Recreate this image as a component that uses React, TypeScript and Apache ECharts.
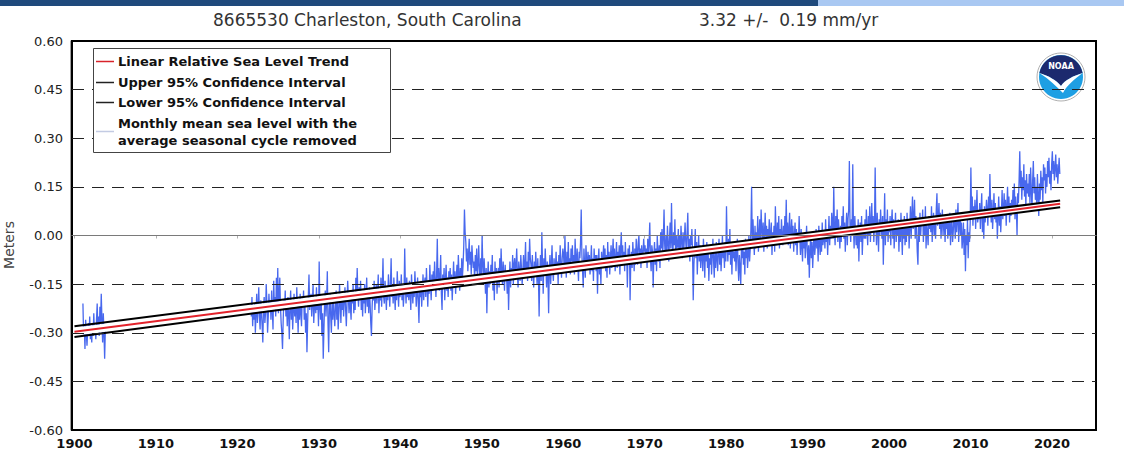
import React, { useEffect, useRef } from "react";
import * as echarts from "echarts";

const titleStation = "8665530 Charleston, South Carolina";
const titleRate = "3.32 +/-  0.19 mm/yr";
const yAxisName = "Meters";
const legendLabels = [
  "Linear Relative Sea Level Trend",
  "Upper 95% Confidence Interval",
  "Lower 95% Confidence Interval",
  "Monthly mean sea level with the",
  "average seasonal cycle removed",
];
const xTickYears = [1900, 1910, 1920, 1930, 1940, 1950, 1960, 1970, 1980, 1990, 2000, 2010, 2020];
const xMin = 1899.7;
const xMax = 2025.4;
const yMin = -0.6;
const yMax = 0.6;
const yStep = 0.15;
const dashedLevels = [0.45, 0.3, 0.15, -0.15, -0.3, -0.45];
const zeroLevel = 0;

const trendYears = [1900, 2021];
const trendValues = [-0.297, 0.098];
const upperValues = [-0.28, 0.108];
const lowerValues = [-0.313, 0.087];

// Monthly mean sea level (cm), seasonal cycle removed
const earlyStartYear = 1901;
const earlyStartMonth = 0;
const msl1901to1903 = [
  -21, -31, -28, -35, -26, -30, -34, -29, -27, -31, -25, -32,
  -29, -33, -27, -31, -24, -30, -28, -32, -26, -21, -29, -25,
  -31, -22, -27, -18, -26, -33, -24, -30, -38, -29,
];

const mainStartYear = 1921;
const mainStartMonth = 8;
const msl1920s = [
  -25, -19, -28, -22,
  -26, -21, -30, -24, -18, -27, -22, -16, -25, -29, -20, -24,
  -28, -33, -22, -19, -27, -24, -15, -21, -30, -25, -18, -23,
  -20, -26, -17, -23, -29, -14, -22, -19, -25, -13, -21, -10,
  -24, -18, -13, -22, -27, -30, -35, -26, -20, -23, -17, -25,
  -21, -28, -19, -24, -32, -22, -17, -26, -20, -29, -23, -18,
  -25, -20, -27, -16, -23, -30, -21, -26, -18, -24, -28, -19,
  -22, -17, -26, -21, -30, -24, -36, -27, -19, -12, -23, -20,
  -18, -25, -21, -15, -27, -22, -19, -24, -16, -23, -20, -28,
];
const msl1930s = [
  -8, -22, -26, -19, -31, -24, -38, -29, -21, -17, -25, -20,
  -11, -27, -36, -23, -18, -25, -30, -21, -26, -19, -24, -28,
  -22, -17, -26, -20, -29, -24, -15, -21, -27, -19, -23, -18,
  -25, -20, -16, -23, -28, -21, -14, -19, -24, -18, -22, -26,
  -17, -21, -15, -24, -19, -23, -13, -20, -10, -18, -22, -16,
  -20, -14, -23, -18, -25, -17, -21, -15, -24, -19, -13, -22,
  -18, -24, -16, -21, -27, -31, -22, -17, -20, -14, -23, -19,
  -15, -21, -18, -12, -24, -17, -20, -13, -22, -16, -7, -19,
  -21, -14, -18, -23, -16, -20, -12, -17, -22, -15, -7, -19,
  -16, -21, -13, -18, -23, -15, -20, -11, -17, -22, -14, -19,
];
const msl1940s = [
  -17, -12, -20, -15, -22, -18, -4, -16, -21, -13, -19, -15,
  -20, -14, -18, -23, -12, -17, -21, -15, -19, -11, -16, -22,
  -18, -13, -21, -27, -16, -19, -14, -22, -17, -12, -20, -15,
  -13, -19, -10, -16, -22, -14, -18, -9, -15, -20, -12, -17,
  -11, -16, -8, -14, -19, -12, -1, -15, -10, -17, -13, -6,
  -18, -23, -12, -16, -10, -20, -14, -9, -17, -13, -19, -11,
  -15, -10, -17, -12, -20, -14, -8, -16, -11, -18, -13, -9,
  -14, -6, -12, -17, -10, -15, -7, -13, -9, -3, 8, 1,
  -2, -8, -4, -11, -6, -1, -9, -5, -12, -3, -7, -10,
  -8, -14, -6, -11, -4, -13, -9, -3, -10, -15, -7, -12,
];
const msl1950s = [
  0, -9, -14, -7, -12, -18, -10, -24, -13, -8, -16, -11,
  -15, -9, -13, -6, -17, -11, -20, -8, -14, -10, -18, -12,
  -10, -16, -7, -13, -4, -11, -15, -8, -12, -17, -9, -14,
  -12, -18, -11, -23, -14, -8, -16, -10, -13, -6, -15, -9,
  -7, -13, -9, -4, -12, -16, -8, -11, -14, -6, -10, -15,
  -11, -6, -13, -9, -2, -12, -8, -14, -5, -10, -1, -7,
  -9, -14, -6, -11, -16, -8, -12, -5, -10, -15, -7, -13,
  -25, -11, -6, -14, 1, -9, -18, -7, -12, -4, -10, -16,
  -8, -13, -24, -10, -6, -15, -9, -3, -11, -14, -7, -12,
  -10, -5, -12, -8, -15, -6, -11, -3, -9, -13, -7, -4,
];
const msl1960s = [
  -6, -11, 0, -8, -13, -5, -9, -2, -10, -7, -12, -4,
  -8, -3, -10, -6, -12, -1, -7, -11, -4, -9, -14, -5,
  -7, -2, 8, -6, -11, -16, -4, -9, -13, -3, -8, -10,
  -5, -10, -6, -12, -8, -3, -11, -7, -14, -4, -9, -6,
  -11, -6, -18, -8, -4, -12, -9, -15, -5, -10, -7, -3,
  -8, -4, -11, -6, -13, -2, -9, -5, -12, -7, -3, -10,
  -6, -1, -9, -4, -11, -7, -2, -10, -5, -8, -3, -12,
  -4, 1, -7, -3, -9, -5, -11, -2, -8, -6, -16, -4,
  -7, -3, -20, -8, -5, -10, -2, -6, -11, -4, -9, -1,
  -5, -9, -2, 0, -7, -4, -10, -3, -8, -6, -1, -5,
];
const msl1970s = [
  -3, -8, -4, -10, -1, -6, -2, 4, -7, -11, -3, -5,
  -16, -6, -2, -9, -4, -11, 0, -5, -8, -3, -10, 1,
  -4, 2, -6, -1, 8, -3, -7, 0, -5, 3, -2, -8,
  -1, 4, -4, 10, -2, -6, 1, -3, 5, -5, 0, -4,
  -3, 2, -6, 0, -4, 3, -2, -7, 1, -5, -1, 4,
  -2, -6, 1, 7, -4, -1, -8, 0, -3, 2, -5, -20,
  -9, -4, 2, -7, -2, -12, -5, 0, -8, -3, -10, -6,
  -4, -11, -1, -6, -13, -3, -8, -2, -10, -5, -14, -7,
  -9, -3, -12, -6, -1, -8, -13, -4, -10, -2, -7, -11,
  -5, -1, -9, -3, -11, -6, 0, -7, -4, -10, -2, -8,
];
const msl1980s = [
  9, -3, -8, -1, -6, 2, -9, -4, -12, -2, -7, -5,
  -8, -3, -11, -5, -1, -9, -14, -6, -10, -15, -4, -7,
  -2, -9, -5, -12, -1, -7, -3, -10, -6, 0, -8, -4,
  2, 15, -3, 5, -1, -6, 3, -4, 1, -2, 6, -5,
  0, 5, -3, 8, 2, -2, 4, -5, 1, 7, -1, 3,
  -4, 2, -1, 5, -3, 0, 4, -6, 1, -2, 3, -5,
  9, 1, -3, 4, -1, 6, -4, 2, -2, 5, 0, -3,
  3, -2, 6, 0, 11, -1, 4, -3, 2, 7, -4, 1,
  5, -1, 3, -5, 0, 4, -3, 2, -6, 1, -2, 6,
  -1, -6, 2, -3, -8, 0, -4, 1, -7, -2, 3, -5,
];
const msl1990s = [
  -9, -3, -13, -5, 0, -7, -2, -10, -4, 1, -6, -3,
  2, -4, -1, -8, 3, -2, -6, 0, -5, 4, -3, -1,
  1, -4, 5, -2, 2, -6, 0, 6, -3, 3, -1, 7,
  4, -1, 15, 2, -3, 6, 0, 8, -2, 5, 1, -4,
  3, -2, 6, 0, 9, -1, 4, -5, 2, 7, -3, 5,
  8, 23, 2, -2, 5, 0, 22, 3, -4, 6, 1, -3,
  2, -4, 5, -8, 1, 4, -2, 6, -6, 0, 3, -1,
  5, -1, 8, 2, -3, 6, 0, 9, -2, 4, 10, 1,
  6, -2, 3, 21, 4, -3, 7, 1, -5, 5, 0, 8,
  3, -1, 6, -9, 2, 13, -3, 5, 0, 8, -2, 4,
];
const msl2000s = [
  1, 6, -3, 4, 8, -1, 5, -4, 2, 7, -2, 3,
  0, 5, -5, 3, -2, 7, 1, -6, 4, -1, 6, -3,
  4, -2, 7, 0, 5, -4, 3, 9, -1, 6, 12, 2,
  5, 11, -1, 6, 2, -5, -9, 3, -2, 7, 0, 4,
  3, 8, -2, 5, 0, 9, -4, 4, 1, -3, 6, 2,
  6, 1, 9, -2, 4, 7, 0, 5, -1, 8, 13, 3,
  5, 10, 2, 7, -1, 4, 8, 0, 6, 3, -2, 5,
  2, 6, -1, 4, 0, 7, -3, 3, 5, -2, 1, 6,
  4, -1, 8, 1, 5, 10, -2, 3, 7, 0, 4, -4,
  -1, 4, -6, 2, -11, 0, -3, 5, -7, 1, -2, 4,
];
const msl2010s = [
  21, 7, 12, 3, 9, 5, 11, 2, 8, 14, 4, 6,
  5, 10, 2, 8, 13, 1, 6, -1, 9, 4, 7, 11,
  8, 3, 12, 6, 19, 9, 4, 11, 2, 7, 13, 5,
  10, 4, 8, -1, 6, 12, 3, 9, 1, 7, 14, 5,
  8, 13, 6, 11, 3, 9, 15, 7, 12, 4, 10, 6,
  11, 7, 14, 9, 16, 5, 12, 8, 0, 13, 10, 17,
  26, 15, 20, 11, 18, 14, 22, 12, 17, 9, 19, 13,
  16, 12, 19, 10, 21, 14, 8, 17, 23, 13, 18, 11,
  15, 9, 19, 12, 6, 16, 11, 20, 14, 18, 10, 22,
  17, 21, 13, 19, 15, 23, 18, 24, 16, 20, 14, 22,
];
const msl2020 = [26, 19, 23, 17, 21, 25, 18, 22, 16, 20, 24, 19];

const FONT = "DejaVu Sans";

echarts.graphic.registerShape(
  "noaaCap",
  echarts.graphic.extendPath(
    "M -21.6 -4 A 22 22 0 0 1 21.6 -4 C 12 -1 4 3 0 9 C -5 3 -12 -1 -21.6 -4 Z",
    {}
  )
);
echarts.graphic.registerShape(
  "noaaGull",
  echarts.graphic.extendPath(
    "M -21.6 -4 C -12 -1 -5 3 0 9 C 4 3 12 -1 21.6 -4 C 14 2 6 8 2 16 C -4 10 -12 2 -21.6 -4 Z",
    {}
  )
);

function monthly(startYear: number, startMonth: number, blocks: number[][]) {
  const out: [number, number][] = [];
  let k = 0;
  for (const b of blocks) {
    for (const v of b) {
      out.push([startYear + (startMonth + k + 0.5) / 12, v / 100]);
      k++;
    }
  }
  return out;
}

function pairs(xs: number[], ys: number[]) {
  return xs.map((x, i) => [x, ys[i]]);
}

export default function App() {
  const ref = useRef<HTMLDivElement>(null);
  useEffect(() => {
    if (!ref.current) return;
    const chart = echarts.init(ref.current, undefined, { renderer: "svg" });
    const early = monthly(earlyStartYear, earlyStartMonth, [msl1901to1903]);
    const main = monthly(mainStartYear, mainStartMonth, [
      msl1920s, msl1930s, msl1940s, msl1950s, msl1960s,
      msl1970s, msl1980s, msl1990s, msl2000s, msl2010s, msl2020,
    ]);
    const blue = "#4868ee";
    const legendRows = [61, 82, 102, 123, 140];
    const legendLineY = [61, 82, 102, 131];
    const legendLineColors = ["#d8232a", "#222", "#222", "#c3cbe3"];

    const gridLines = [
      ...dashedLevels.map((v) => ({
        yAxis: v,
        lineStyle: { type: [12, 8], color: "#222", width: 1 },
      })),
      { yAxis: zeroLevel, lineStyle: { type: "solid", color: "#7a7a7a", width: 1 } },
    ];

    chart.setOption({
      animation: false,
      backgroundColor: "#fff",
      grid: {
        left: 72,
        right: 28,
        top: 41,
        bottom: 25,
        containLabel: false,
        outerBoundsMode: "none",
        show: true,
        backgroundColor: "transparent",
        borderColor: "#000",
        borderWidth: 2,
      },
      xAxis: {
        type: "value",
        min: xMin,
        max: xMax,
        offset: 3,
        axisLine: { show: true, lineStyle: { color: "#a0a0a0", width: 1 } },
        axisTick: { show: true, customValues: xTickYears, length: 3, lineStyle: { color: "#b0b0b0" } },
        splitLine: { show: false },
        axisLabel: {
          customValues: xTickYears,
          formatter: (v: number) => String(Math.round(v)),
          fontFamily: FONT,
          fontWeight: "bold",
          fontSize: 13,
          color: "#111",
          margin: 4,
        },
      },
      yAxis: {
        type: "value",
        min: yMin,
        max: yMax,
        interval: yStep,
        offset: 2,
        axisLine: { show: true, lineStyle: { color: "#a0a0a0", width: 1 } },
        axisTick: { show: false },
        splitLine: { show: false },
        axisLabel: {
          formatter: (v: number) => v.toFixed(2),
          fontFamily: FONT,
          fontSize: 13,
          color: "#222",
          margin: 7,
        },
      },
      series: [
        {
          name: "grid",
          type: "line",
          data: pairs(trendYears, trendValues),
          lineStyle: { opacity: 0 },
          showSymbol: false,
          silent: true,
          z: 1,
          markLine: {
            silent: true,
            symbol: "none",
            label: { show: false },
            data: gridLines,
          },
        },
        {
          name: "early",
          type: "line",
          data: early,
          showSymbol: false,
          lineStyle: { color: blue, width: 1.3 },
          z: 2,
        },
        {
          name: "monthly",
          type: "line",
          data: main,
          showSymbol: false,
          lineStyle: { color: blue, width: 1.3 },
          z: 2,
        },
        {
          name: "halo",
          type: "line",
          data: pairs(trendYears, trendValues),
          showSymbol: false,
          lineStyle: { color: "#fff", width: 8 },
          z: 3,
        },
        {
          name: "upper",
          type: "line",
          data: pairs(trendYears, upperValues),
          showSymbol: false,
          lineStyle: { color: "#000", width: 2 },
          z: 4,
        },
        {
          name: "lower",
          type: "line",
          data: pairs(trendYears, lowerValues),
          showSymbol: false,
          lineStyle: { color: "#000", width: 2 },
          z: 4,
        },
        {
          name: "trend",
          type: "line",
          data: pairs(trendYears, trendValues),
          showSymbol: false,
          lineStyle: { color: "#e3222b", width: 2 },
          z: 5,
        },
      ],
      graphic: [
        {
          type: "rect",
          left: 0,
          top: 0,
          shape: { width: 818, height: 6 },
          style: { fill: "#1f4a7c" },
          z: 10,
        },
        {
          type: "rect",
          left: 818,
          top: 0,
          shape: { width: 306, height: 6 },
          style: { fill: "#a9c8f2" },
          z: 10,
        },
        {
          type: "text",
          x: 213,
          y: 20,
          style: { text: titleStation, font: `17px '${FONT}'`, fill: "#333", verticalAlign: "middle" },
        },
        {
          type: "text",
          x: 699,
          y: 20,
          style: { text: titleRate, font: `17px '${FONT}'`, fill: "#333", verticalAlign: "middle" },
        },
        {
          type: "text",
          x: 9,
          y: 245,
          rotation: Math.PI / 2,
          style: { text: yAxisName, font: `14px '${FONT}'`, fill: "#444", align: "center", verticalAlign: "middle" },
        },
        {
          type: "rect",
          shape: { x: 93.5, y: 48.5, width: 297, height: 104 },
          style: { fill: "#fff", stroke: "#444", lineWidth: 1 },
          z: 20,
        },
        ...legendLineY.map((y, i) => ({
          type: "line",
          shape: { x1: 96, y1: y + 0.5, x2: 114, y2: y + 0.5 },
          style: { stroke: legendLineColors[i], lineWidth: 1.5 },
          z: 21,
        })),
        ...legendLabels.map((t, i) => ({
          type: "text",
          x: 118,
          y: legendRows[i],
          style: { text: t, font: `bold 13px '${FONT}'`, fill: "#111", verticalAlign: "middle" },
          z: 21,
        })),
        {
          type: "group",
          x: 1061,
          y: 77,
          z: 20,
          children: [
            { type: "circle", shape: { cx: 0, cy: 0, r: 24 }, style: { fill: "#fff", stroke: "#b0b0b0", lineWidth: 1 } },
            { type: "circle", shape: { cx: 0, cy: 0, r: 22 }, style: { fill: "#1e9fe3" } },
            { type: "noaaCap", style: { fill: "#1c2a6e" } },
            { type: "noaaGull", style: { fill: "#fff" } },
            {
              type: "text",
              x: 0,
              y: -11,
              style: { text: "NOAA", font: `bold 8px '${FONT}'`, fill: "#fff", align: "center", verticalAlign: "middle" },
            },
          ],
        },
      ],
    });
    return () => chart.dispose();
  }, []);
  return (
    <div
      ref={ref}
      style={{ position: "absolute", left: 0, top: 0, width: 1124, height: 455 }}
    />
  );
}
